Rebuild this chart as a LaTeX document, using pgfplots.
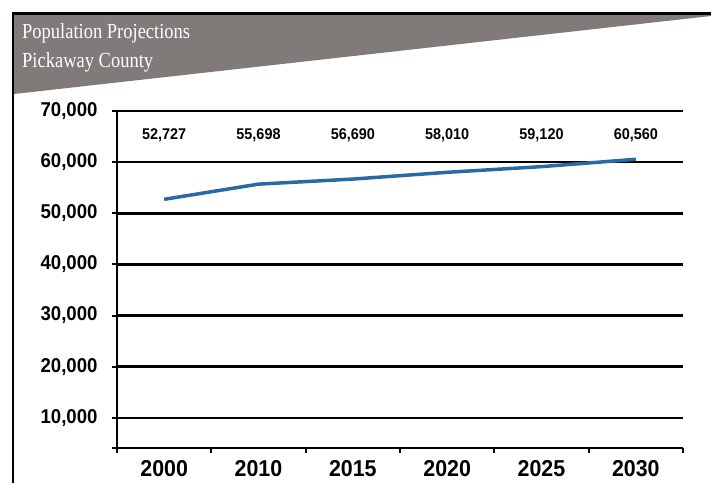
\documentclass[border=0pt]{standalone}
\usepackage{fontspec}
\setmainfont{Liberation Serif}
\newfontfamily\titlefont[FakeStretch=0.86]{Liberation Serif}
\newfontfamily\arial[FakeStretch=0.93]{Liberation Sans}
\usepackage{pgfplots}
\pgfplotsset{compat=1.18}
\definecolor{banner}{RGB}{128,122,120}
\definecolor{lineblue}{RGB}{40,106,166}

\begin{document}
\begin{tikzpicture}
\useasboundingbox (0,0) rectangle (711bp,-483bp);
% header band and frame
\fill[banner] (14bp,-14bp) -- (711bp,-14bp) -- (711bp,-16bp) -- (14bp,-94bp) -- cycle;
\draw[line width=3bp] (12bp,-13bp) -- (711bp,-13bp);
\draw[line width=2.5bp] (13bp,-12bp) -- (13bp,-483bp);
\node[anchor=base west, text=white, inner sep=0,
  font=\titlefont\fontsize{21.5bp}{23bp}\selectfont] at (22bp,-38bp) {Population Projections};
\node[anchor=base west, text=white, inner sep=0,
  font=\titlefont\fontsize{21.5bp}{23bp}\selectfont] at (22bp,-67bp) {Pickaway County};

\begin{axis}[
  at={(117bp,-448bp)}, anchor=south west, scale only axis,
  width=566bp, height=337bp,
  xmin=-0.5, xmax=5.5, ymin=4100, ymax=70000,
  axis lines*=left,
  axis line style={line width=2.5bp},
  ymajorgrids, grid style={black, line width=2.5bp},
  xtick={-0.5,0.5,...,5.5}, xticklabels={},
  extra x ticks={0,1,2,3,4,5},
  extra x tick labels={2000,2010,2015,2020,2025,2030},
  extra x tick style={major tick length=0pt, grid=none},
  ytick={10000,20000,...,70000},
  minor ytick={4100},
  tick align=outside,
  major tick length=5bp, minor tick length=5bp,
  tick style={black, line width=2bp},
  scaled y ticks=false,
  /pgf/number format/fixed, /pgf/number format/precision=0,
  /pgf/number format/1000 sep={,},
  /pgf/number format/assume math mode=true,
  yticklabel style={font=\arial\bfseries\fontsize{20bp}{22bp}\selectfont, xshift=-11bp},
  xticklabel style={font=\arial\bfseries\fontsize{23bp}{25bp}\selectfont, yshift=-9bp},
]
\addplot[color=lineblue, line width=3.5bp] coordinates {
  (0,52727) (1,55698) (2,56690) (3,58010) (4,59120) (5,60560)
};
\addplot[draw=none, nodes near coords, point meta=explicit symbolic,
  every node near coord/.style={anchor=center, black,
    font=\arial\bfseries\fontsize{15.5bp}{17bp}\selectfont}]
  table[meta=lab] {
x y lab
0 65300 52,727
1 65300 55,698
2 65300 56,690
3 65300 58,010
4 65300 59,120
5 65300 60,560
};
\end{axis}
\end{tikzpicture}
\end{document}
